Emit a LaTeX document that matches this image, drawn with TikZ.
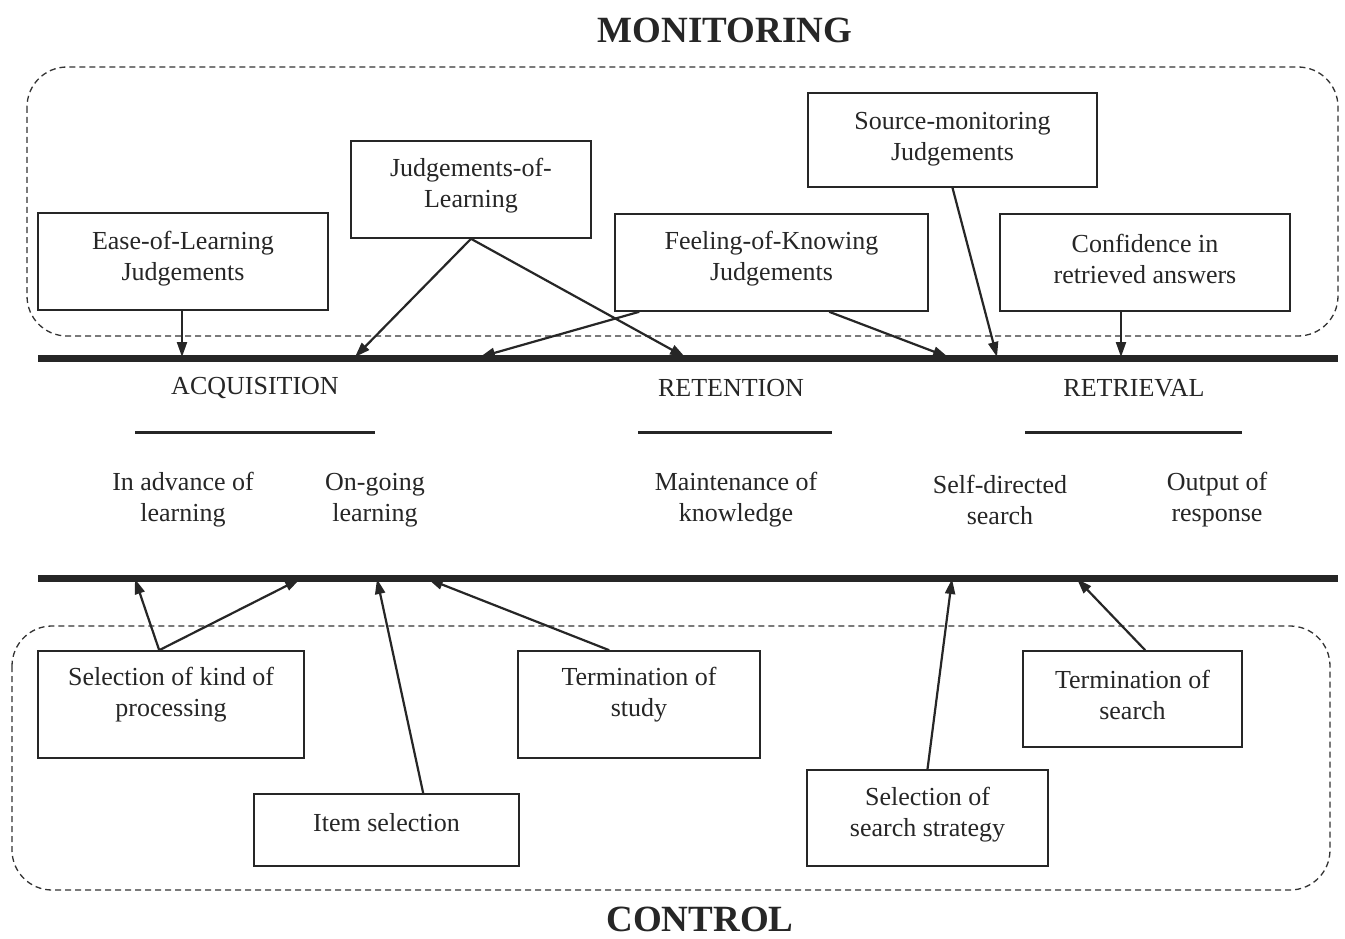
\documentclass[tikz,border=0pt]{standalone}
\usepackage{fontspec}
\setmainfont{Liberation Serif}
\usetikzlibrary{arrows.meta,calc}
\begin{document}
\begin{tikzpicture}[x=1pt,y=-1pt,
  box/.style={draw=black!85, line width=1.6pt, inner sep=0pt},
  txt/.style={text=black!85, align=center, font=\fontsize{26}{31}\selectfont},
  head/.style={text=black!85, font=\fontsize{37}{40}\selectfont\bfseries},
  arr/.style={draw=black!85, line width=2.2pt, -{Triangle[length=15pt,width=10pt]}},
  bar/.style={draw=black!85, line width=7pt},
  sbar/.style={draw=black!85, line width=3pt},
  zone/.style={draw=black!80, line width=1.3pt, dash pattern=on 6pt off 4pt, rounded corners=40pt}]
\useasboundingbox (0,0) rectangle (1345,939);
\fill[white] (0,0) rectangle (1345,939);

% titles
\node[head] (mon) at (725,30) {MONITORING};
\node[head] (ctl) at (700,919) {CONTROL};

% dashed zones
\draw[zone] (27,67) rectangle (1338,336);
\draw[zone] (12,626) rectangle (1330,890);

% thick lines
\coordinate (t1) at (38,358); \coordinate (t2) at (1338,358);
\coordinate (b1) at (38,578); \coordinate (b2) at (1338,578);
\draw[bar] (t1) -- (t2);
\draw[bar] (b1) -- (b2);

% stage labels
\node[txt] (acq) at (255,388) {ACQUISITION};
\node[txt] (ret) at (731,388) {RETENTION};
\node[txt] (rtv) at (1134,388) {RETRIEVAL};
\coordinate (s1a) at (135,432); \coordinate (s1b) at (375,432);
\coordinate (s2a) at (638,432); \coordinate (s2b) at (832,432);
\coordinate (s3a) at (1025,432); \coordinate (s3b) at (1242,432);
\draw[sbar] (s1a) -- (s1b);
\draw[sbar] (s2a) -- (s2b);
\draw[sbar] (s3a) -- (s3b);
\node[txt] (adv) at (183,500) {In advance of\\learning};
\node[txt] (ong) at (375,500) {On-going\\learning};
\node[txt] (mnt) at (736,500) {Maintenance of\\knowledge};
\node[txt] (sds) at (1000,500) {Self-directed\\search};
\node[txt] (out) at (1217,500) {Output of\\response};

% monitoring boxes
\node[box, minimum width=290, minimum height=97] (eol) at (183,261.5) {};
\node[txt] (eolt) at ($(eol.center)+(0,-2.5)$) {Ease-of-Learning\\Judgements};
\node[box, minimum width=240, minimum height=97] (jol) at (471,189.5) {};
\node[txt] (jolt) at ($(jol.center)+(0,-3.5)$) {Judgements-of-\\Learning};
\node[box, minimum width=313, minimum height=97] (fok) at (771.5,262.5) {};
\node[txt] (fokt) at ($(fok.center)+(0,-3.5)$) {Feeling-of-Knowing\\Judgements};
\node[box, minimum width=289, minimum height=94] (smj) at (952.5,140) {};
\node[txt] (smjt) at ($(smj.center)+(0,-1)$) {Source-monitoring\\Judgements};
\node[box, minimum width=290, minimum height=97] (conf) at (1145,262.5) {};
\node[txt] (conft) at ($(conf.center)+(0,-3.5)$) {Confidence in\\retrieved answers};

% control boxes
\node[box, minimum width=266, minimum height=107] (skp) at (171,704.5) {};
\node[txt] (skpt) at ($(skp.center)+(0,-9.5)$) {Selection of kind of\\processing};
\node[box, minimum width=265, minimum height=72] (item) at (386.5,830) {};
\node[txt] (itemt) at ($(item.center)+(0,-7)$) {Item selection};
\node[box, minimum width=242, minimum height=107] (tst) at (639,704.5) {};
\node[txt] (tstt) at ($(tst.center)+(0,-9.5)$) {Termination of\\study};
\node[box, minimum width=241, minimum height=96] (sss) at (927.5,818) {};
\node[txt] (ssst) at ($(sss.center)+(0,-3)$) {Selection of\\search strategy};
\node[box, minimum width=219, minimum height=96] (tse) at (1132.5,699) {};
\node[txt] (tset) at ($(tse.center)+(0,-4)$) {Termination of\\search};

% arrow targets on the top line
\coordinate (a1) at (182,357);
\coordinate (a2) at (355,357);
\coordinate (a3) at (685,357);
\coordinate (a4) at (480,357);
\coordinate (a5) at (948,357);
\coordinate (a6) at (997,357);
\coordinate (a7) at (1121,357);
% arrow targets on the bottom line
\coordinate (c1) at (135,579);
\coordinate (c2) at (300,579);
\coordinate (c3) at (377,579);
\coordinate (c4) at (428,579);
\coordinate (c5) at (952,579);
\coordinate (c6) at (1077,579);

% monitoring arrows
\draw[arr] (eol.south -| a1) -- (a1);
\draw[arr] (jol.south) -- (a2);
\draw[arr] (jol.south) -- (a3);
\draw[arr] ($(fok.south west)+(25,0)$) -- (a4);
\draw[arr] ($(fok.south west)+(215,0)$) -- (a5);
\draw[arr] (smj.south) -- (a6);
\draw[arr] (conf.south -| a7) -- (a7);

% control arrows
\draw[arr] ($(skp.north west)+(122,0)$) -- (c1);
\draw[arr] ($(skp.north west)+(122,0)$) -- (c2);
\draw[arr] ($(item.north west)+(170,0)$) -- (c3);
\draw[arr] ($(tst.north west)+(92,0)$) -- (c4);
\draw[arr] (sss.north) -- (c5);
\draw[arr] ($(tse.north west)+(123,0)$) -- (c6);
\end{tikzpicture}
\end{document}
